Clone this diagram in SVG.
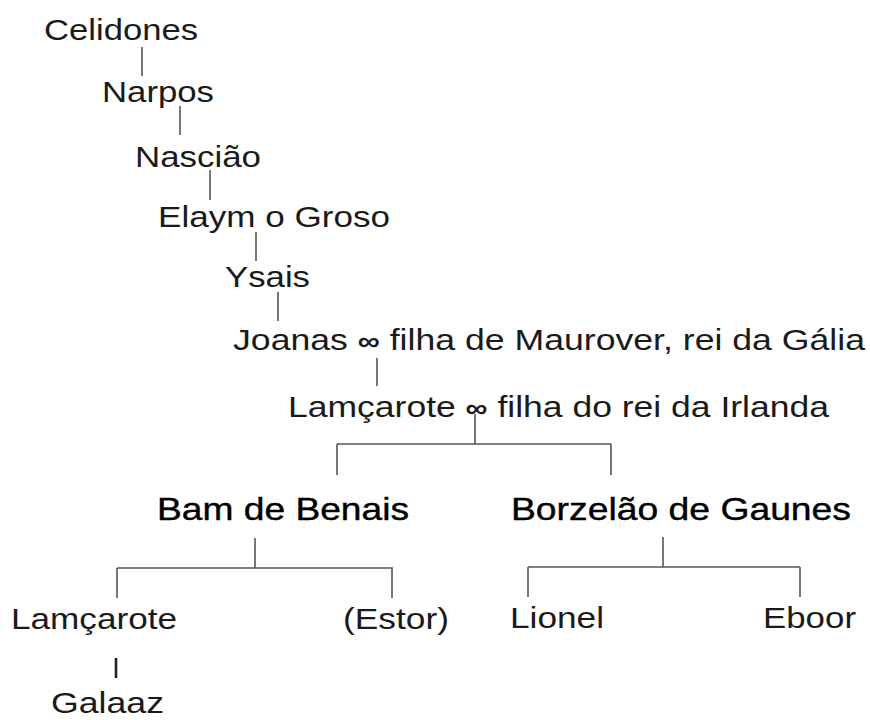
<svg xmlns="http://www.w3.org/2000/svg" width="870" height="720" viewBox="0 0 870 720">
<style>
.t{font-family:"Liberation Sans",Arial,sans-serif;font-size:30px;fill:#1a1a1a}
.b{font-size:32px;fill:#000;stroke:#000;stroke-width:0.4}
.inf{font-weight:bold;font-size:26px}
.c line{stroke:#555;stroke-width:1.6;fill:none}
</style>
<rect width="870" height="720" fill="#fff"/>
<g class="c" id="connectors">
<line x1="142" y1="47" x2="142" y2="76"/>
<line x1="180" y1="106" x2="180" y2="135"/>
<line x1="210" y1="170" x2="210" y2="200"/>
<line x1="256" y1="232" x2="256" y2="261"/>
<line x1="278" y1="292" x2="278" y2="321"/>
<line x1="377" y1="358" x2="377" y2="386"/>
<line x1="475" y1="414" x2="475" y2="444"/>
<line x1="337" y1="444" x2="611" y2="444"/>
<line x1="337" y1="444" x2="337" y2="475"/>
<line x1="611" y1="444" x2="611" y2="475"/>
<line x1="255" y1="538" x2="255" y2="568"/>
<line x1="117" y1="568" x2="393" y2="568"/>
<line x1="117" y1="568" x2="117" y2="598"/>
<line x1="392" y1="568" x2="392" y2="598"/>
<line x1="663" y1="537" x2="663" y2="567"/>
<line x1="528" y1="567" x2="800" y2="567"/>
<line x1="528" y1="567" x2="528" y2="597"/>
<line x1="800" y1="567" x2="800" y2="597"/>
<line x1="116" y1="658" x2="116" y2="678" style="stroke:#222;stroke-width:2.6"/>
</g>
<g id="celidones"><text class="t" x="44" y="40" textLength="154" lengthAdjust="spacingAndGlyphs">Celidones</text></g>
<g id="narpos"><text class="t" x="102" y="102" textLength="112" lengthAdjust="spacingAndGlyphs">Narpos</text></g>
<g id="nasciao"><text class="t" x="135" y="167" textLength="126" lengthAdjust="spacingAndGlyphs">Nascião</text></g>
<g id="elaym"><text class="t" x="158" y="227" textLength="232" lengthAdjust="spacingAndGlyphs">Elaym o Groso</text></g>
<g id="ysais"><text class="t" x="225" y="287" textLength="85" lengthAdjust="spacingAndGlyphs">Ysais</text></g>
<g id="joanas"><text class="t" x="233" y="350" textLength="632" lengthAdjust="spacingAndGlyphs">Joanas <tspan class="inf">∞</tspan> filha de Maurover, rei da Gália</text></g>
<g id="lamcarote1"><text class="t" x="288" y="417" textLength="541" lengthAdjust="spacingAndGlyphs">Lamçarote <tspan class="inf">∞</tspan> filha do rei da Irlanda</text></g>
<g id="bam"><text class="t b" x="157" y="520" textLength="252" lengthAdjust="spacingAndGlyphs">Bam de Benais</text></g>
<g id="borzelao"><text class="t b" x="511" y="520" textLength="340" lengthAdjust="spacingAndGlyphs">Borzelão de Gaunes</text></g>
<g id="lamcarote2"><text class="t" x="11" y="629" textLength="166" lengthAdjust="spacingAndGlyphs">Lamçarote</text></g>
<g id="estor"><text class="t" x="343" y="629" textLength="106" lengthAdjust="spacingAndGlyphs">(Estor)</text></g>
<g id="lionel"><text class="t" x="510" y="628" textLength="94" lengthAdjust="spacingAndGlyphs">Lionel</text></g>
<g id="eboor"><text class="t" x="763" y="628" textLength="93" lengthAdjust="spacingAndGlyphs">Eboor</text></g>
<g id="galaaz"><text class="t" x="51" y="713" textLength="113" lengthAdjust="spacingAndGlyphs">Galaaz</text></g>
</svg>
